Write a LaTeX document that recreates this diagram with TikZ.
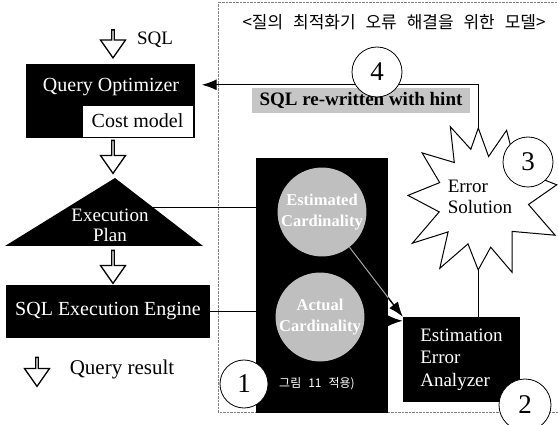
\documentclass[tikz,border=0pt]{standalone}
\usepackage{fontspec}
\setmainfont{Liberation Serif}
\newfontfamily\kor{Noto Sans CJK KR}[WordSpace=2.6]
\usetikzlibrary{arrows.meta, positioning, shapes.arrows, calc}

\begin{document}
\begin{tikzpicture}[x=1pt, y=-1pt,
    lbl/.style={font=\fontsize{20}{22}\selectfont},
    darkbox/.style={fill=black, text=white, inner sep=0pt, lbl},
    ball/.style={circle, fill=gray!50, text=white, align=center, inner sep=0pt, font=\bfseries\fontsize{16.5}{21}\selectfont},
    numcirc/.style={circle, draw, line width=0.8pt, fill=white, inner sep=0pt, font=\fontsize{27}{27}\selectfont},
    hollow/.style={single arrow, draw, line width=1.3pt, fill=white, shape border rotate=270, minimum height=30pt, minimum width=25pt, single arrow head extend=6pt, single arrow tip angle=70, inner sep=0pt},
    conn/.style={line width=1.4pt},
    arrow/.style={-{Latex[length=15pt, width=11pt]}, line width=1.4pt}
]
\useasboundingbox (0,0) rectangle (558,425);

% frame of the model
\draw[densely dotted, gray] (558,2) -- (218,2) -- (218,412) -- (558,412);
\node[font=\kor\fontsize{17}{19}\selectfont] (title) at (394,22) {<질의 최적화기 오류 해결을 위한 모델>};

% left column
\node[hollow, minimum height=28pt] (a0) at (113,43) {};
\node[font=\fontsize{19}{20}\selectfont] (sql) at (155,40) {SQL};

\node[darkbox, minimum width=169pt, minimum height=74pt] (qo) at (110,101) {};
\node[lbl, text=white] (qotxt) at (111,87) {Query Optimizer};
\node[draw, fill=white, minimum width=111pt, minimum height=32pt, inner sep=0pt, lbl] (cost) at (137.5,121) {Cost model};

\node[hollow, minimum height=33pt] (a1) at (113,156) {};

\coordinate (pt) at (115,178);
\coordinate (pl) at (5,246);
\coordinate (pr) at (203,246);
\fill (pt) -- (pr) -- (pl) -- cycle;
\node[text=white, align=center, font=\fontsize{19}{20}\selectfont] (plan) at (110,225) {Execution\\Plan};
\coordinate (planr) at ($(pt)!0.43!(pr)$);

\node[hollow, minimum height=33pt] (a2) at (113,266) {};

\node[darkbox, minimum width=204pt, minimum height=53pt] (eng) at (108,311.5) {SQL Execution Engine};

\node[hollow, minimum height=29pt] (a3) at (37,371) {};
\node[font=\fontsize{21}{22}\selectfont] (res) at (122,369) {Query result};

% cardinality block
\node[fill=black, minimum width=132pt, minimum height=255pt, inner sep=0pt] (box) at (322,285.5) {};
\node[ball, minimum size=86pt] (est) at (322,212) {Estimated\\Cardinality};
\node[ball, minimum size=82pt] (act) at (320,317) {Actual\\Cardinality};
\node[text=white, font=\kor\fontsize{12}{14}\selectfont] (note) at (317,384) {그림 11 적용)};

\node[darkbox, minimum width=117pt, minimum height=85pt, align=left, font=\fontsize{19}{22.5}\selectfont] (ana) at (461.5,359.5) {Estimation\\Error\\Analyzer};

\node[fill=gray!45, minimum width=218pt, minimum height=25pt, inner sep=0pt, font=\bfseries\fontsize{19}{20}\selectfont] (hint) at (361,100.5) {SQL re-written with hint};

% error solution burst
\draw[line width=1pt, fill=white] (478.3,128.1) -- (488.6,156.5) -- (506.6,130.3) -- (516.5,169.1)
    -- (556.8,184.8) -- (528.5,204.5) -- (555.1,235.2) -- (512.1,231.4) -- (512,272.2)
    -- (490.7,247.2) -- (478.2,269.9) -- (468,243.9) -- (439.8,268.3) -- (448.1,231.9)
    -- (412.4,243.2) -- (439.2,211.9) -- (408,195.4) -- (439.7,182.6) -- (422.1,152.9)
    -- (454.3,162.5) -- (450.3,126.7) -- (470.8,149.3) -- cycle;
\coordinate (errtop) at (478.3,128.1);
\coordinate (errbot) at (478.2,269.9);
\node[align=left, font=\fontsize{19}{21}\selectfont] (err) at (480,197) {Error\\Solution};

% connectors
\coordinate (back) at ([yshift=3pt]hint.north);
\draw[arrow] (errtop) |- ([xshift=7pt]qo.east |- back);
\draw[conn] (planr) -- (planr -| box.west);
\draw[conn] (eng.east) -- (eng.east -| box.west);
\draw[arrow] (est.-52) -- (ana.north west);
\begin{scope}
  \clip (box.south west) rectangle (box.north east);
  \draw[gray!70, line width=1pt] (est.-52) -- (ana.north west);
\end{scope}
\coordinate (hz) at ([yshift=-4pt]ana.north west);
\draw[arrow] (act.east |- hz) -- (hz);
\draw[conn] (errbot |- ana.north) -- (errbot);

% step numbers
\node[numcirc, minimum size=50pt] (n4) at (377,72) {4};
\node[numcirc, minimum size=50pt] (n3) at (528,162) {3};
\node[numcirc, minimum size=48pt] (n1) at (244,384) {1};
\node[numcirc, minimum size=52pt] (n2) at (525,405) {2};
\end{tikzpicture}
\end{document}
